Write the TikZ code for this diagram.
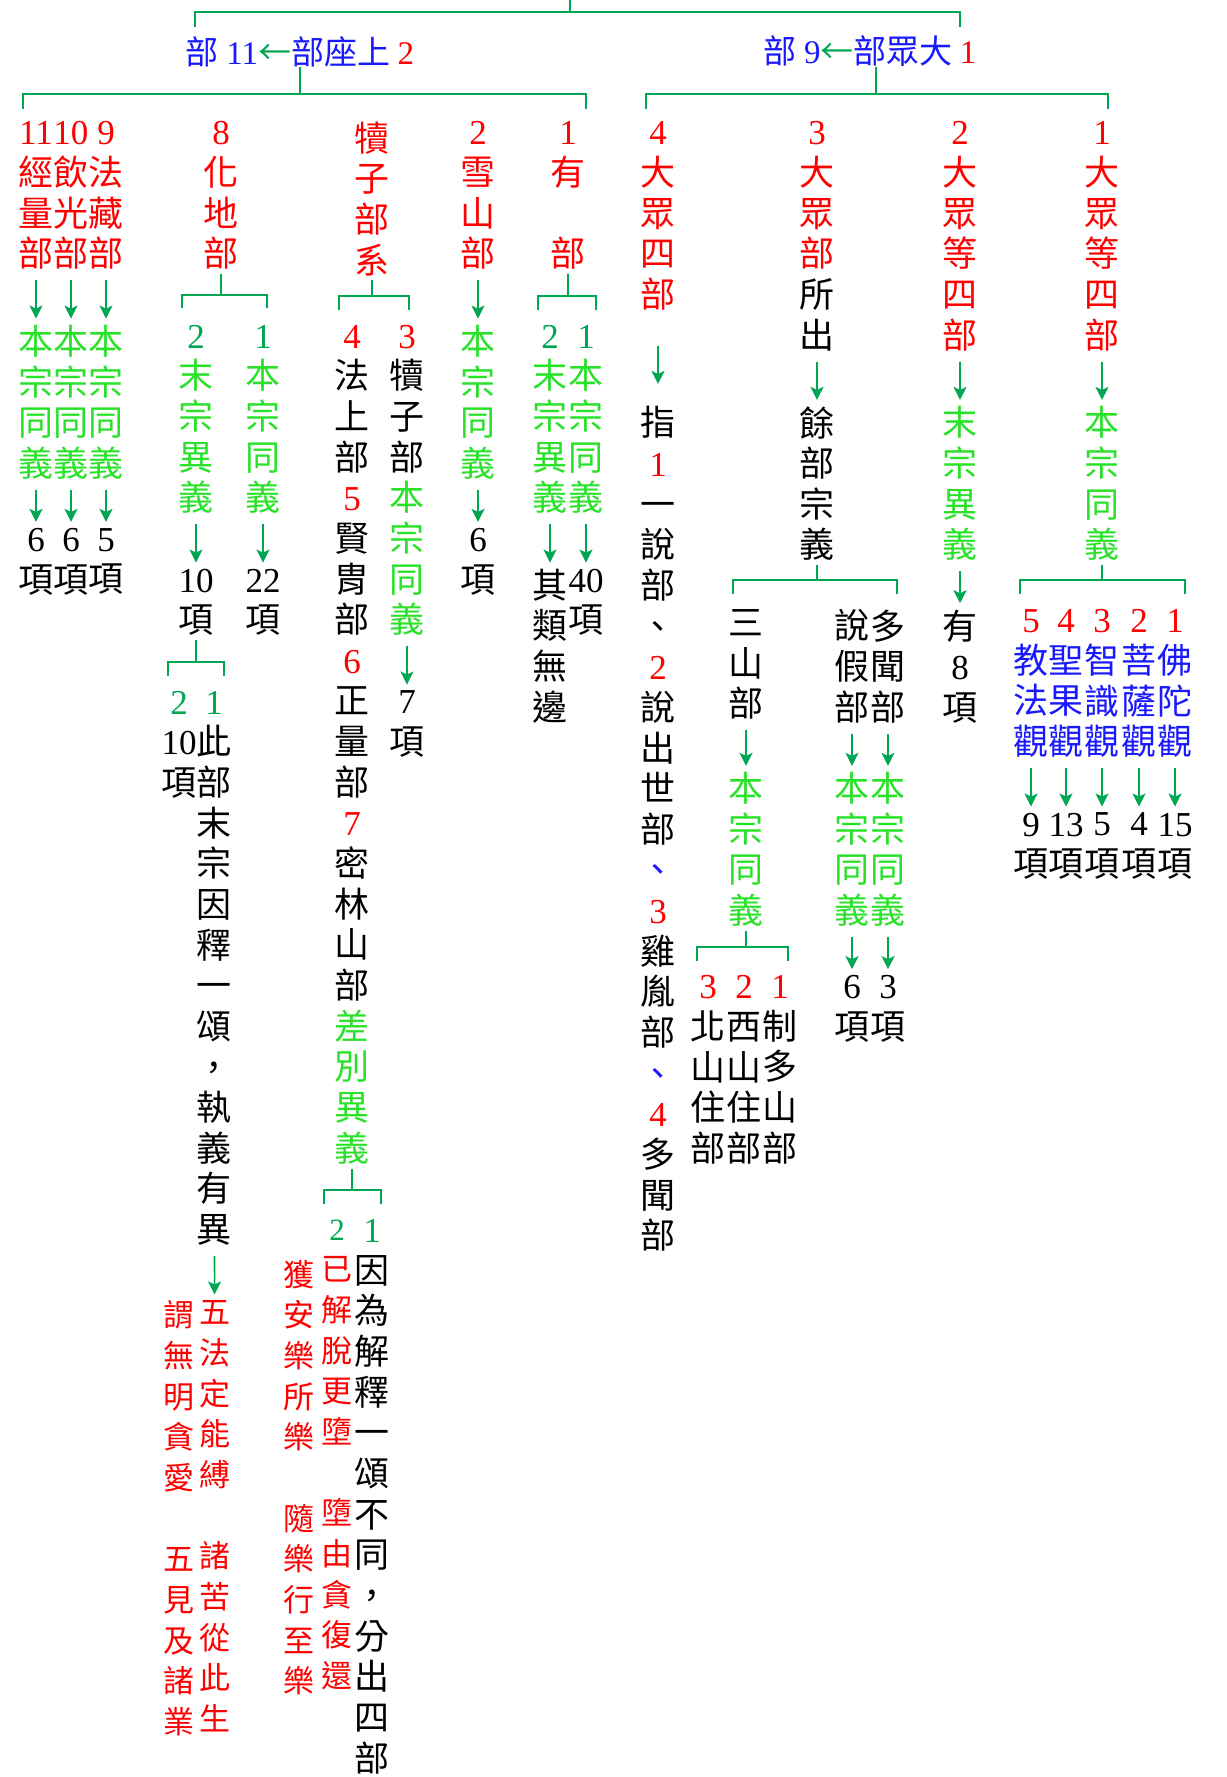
\documentclass[tikz,border=0pt]{standalone}
\usepackage{fontspec}
\usepackage{xcolor}
\usepackage{tikz}
\usetikzlibrary{arrows.meta, positioning}
\setmainfont{Liberation Serif}
\newfontfamily\cjk{Noto Sans CJK TC}
\definecolor{linkgreen}{RGB}{0, 166, 81}
\definecolor{textgreen}{RGB}{40, 225, 40}
\definecolor{textred}{RGB}{255, 0, 0}
\definecolor{textblue}{RGB}{25, 25, 255}
\newcommand{\vstrut}{\rule[-3.5pt]{0pt}{20.31pt}}
\newcommand{\nr}[1]{{\rmfamily #1}}
\newcommand{\redc}[1]{\textcolor{textred}{#1}}
\newcommand{\bluec}[1]{\textcolor{textblue}{#1}}
\newcommand{\greenc}[1]{\textcolor{textgreen}{#1}}
\newcommand{\linkc}[1]{\textcolor{linkgreen}{#1}}
\newcommand{\row}[1]{121.3+40.66*#1}
\tikzstyle{col} = [
    anchor=north,
    align=center,
    inner sep=0pt,
    font=\cjk\fontsize{17.5}{20.33}\selectfont,
    execute at begin node=\vstrut,
    execute at end node=\vstrut
]
\tikzstyle{note} = [
    col,
    font=\cjk\fontsize{15.5}{20.33}\selectfont,
    text=textred
]
\tikzstyle{title} = [
    inner sep=0pt,
    font=\cjk\fontsize{16.5}{20}\selectfont,
    text=textblue
]
\tikzstyle{link} = [
    line width=1pt,
    color=linkgreen
]
\tikzstyle{arrow} = [
    line width=0.8pt,
    -{Stealth[length=6.5pt, width=6.5pt, inset=1.5pt]},
    shorten <=3pt,
    shorten >=3pt,
    color=linkgreen
]

\begin{document}
\begin{tikzpicture}[x=0.5pt, y=-0.5pt]
        \useasboundingbox (0,0) rectangle (1226,1777);

        % Titles
        \coordinate (root) at (570,0);
        \node[title] (shangzuo) at (300,51.5) {部 \nr{11}\linkc{←}部座上 \redc{\nr{2}}};
        \node[title] (dazhong) at (870,51.5) {部 \nr{9}\linkc{←}部眾大 \redc{\nr{1}}};
        \draw[link] (root) -- (570,12.5);
        \draw[link] (195,27) |- (960,12.5) -- (960,27);
        \coordinate (shangzuo-stem) at (300,94);
        \coordinate (dazhong-stem) at (876,94);
        \draw[link] (shangzuo.south -| shangzuo-stem) -- (shangzuo-stem);
        \draw[link] (dazhong.south -| dazhong-stem) -- (dazhong-stem);
        \draw[link] (23,109) |- (586,94) -- (586,109);
        \draw[link] (646,109) |- (1108,94) -- (1108,109);

        % Sthavira: 11, 10, 9
        \node[col, text=textred] (jingliang) at (36,{\row{0}}) {\nr{11}\\經\\量\\部};
        \node[col, text=textred] (yinguang) at (71,{\row{0}}) {\nr{10}\\飲\\光\\部};
        \node[col, text=textred] (fazang) at (106,{\row{0}}) {\nr{9}\\法\\藏\\部};
        \node[col, text=textgreen] (jingliang-same) at (36,{\row{5}}) {本\\宗\\同\\義};
        \node[col, text=textgreen] (yinguang-same) at (71,{\row{5}}) {本\\宗\\同\\義};
        \node[col, text=textgreen] (fazang-same) at (106,{\row{5}}) {本\\宗\\同\\義};
        \node[col] (jingliang-n) at (36,{\row{10}}) {\nr{6}\\項};
        \node[col] (yinguang-n) at (71,{\row{10}}) {\nr{6}\\項};
        \node[col] (fazang-n) at (106,{\row{10}}) {\nr{5}\\項};
        \draw[arrow] (jingliang) -- (jingliang-same);
        \draw[arrow] (yinguang) -- (yinguang-same);
        \draw[arrow] (fazang) -- (fazang-same);
        \draw[arrow] (jingliang-same) -- (jingliang-n);
        \draw[arrow] (yinguang-same) -- (yinguang-n);
        \draw[arrow] (fazang-same) -- (fazang-n);

        % Sthavira: 8
        \node[col, text=textred] (huadi) at (221,{\row{0}}) {\nr{8}\\化\\地\\部};
        \draw[link] (huadi) -- (221,294.8);
        \draw[link] (182,308) |- (267,294.8) -- (267,308);
        \node[col, text=textgreen] (huadi-diff) at (196,{\row{5}}) {\linkc{\nr{2}}\\末\\宗\\異\\義};
        \node[col, text=textgreen] (huadi-same) at (263,{\row{5}}) {\linkc{\nr{1}}\\本\\宗\\同\\義};
        \node[col] (huadi-diff-n) at (196,{\row{11}}) {\nr{10}\\項};
        \node[col] (huadi-same-n) at (263,{\row{11}}) {\nr{22}\\項};
        \draw[arrow] (huadi-diff) -- (huadi-diff-n);
        \draw[arrow] (huadi-same) -- (huadi-same-n);
        \draw[link] (huadi-diff-n) -- (196,662);
        \draw[link] (168,676) |- (224,662) -- (224,676);
        \node[col] (huadi-ten) at (179,{\row{14}}) {\linkc{\nr{2}}\\\nr{10}\\項};
        \node[col] (huadi-why) at (214,{\row{14}}) {\linkc{\nr{1}}\\此\\部\\末\\宗\\因\\釋\\一\\頌\\，\\執\\義\\有\\異};
        \node[note] (wuming) at (179,{\row{29}}) {謂\\無\\明\\貪\\愛\\~\\五\\見\\及\\諸\\業};
        \node[note] (wufa) at (215,{\row{29}}) {五\\法\\定\\能\\縛\\~\\諸\\苦\\從\\此\\生};
        \draw[arrow] (huadi-why) -- (wufa);

        % Sthavira: Vatsiputriya
        \node[col, text=textred] (duzi) at (372,{\row{0}}) {犢\\子\\部\\系};
        \draw[link] (duzi) -- (372,296);
        \draw[link] (339,310) |- (409,296) -- (409,310);
        \node[col] (duzi-four) at (352,{\row{5}}) {\redc{\nr{4}}\\法\\上\\部\\\redc{\nr{5}}\\賢\\胄\\部\\\redc{\nr{6}}\\正\\量\\部\\\redc{\nr{7}}\\密\\林\\山\\部\\\greenc{差}\\\greenc{別}\\\greenc{異}\\\greenc{義}};
        \node[col] (duzi-self) at (407,{\row{5}}) {\redc{\nr{3}}\\犢\\子\\部\\\greenc{本}\\\greenc{宗}\\\greenc{同}\\\greenc{義}};
        \node[col] (duzi-self-n) at (407,{\row{14}}) {\nr{7}\\項};
        \draw[arrow] (duzi-self) -- (duzi-self-n);
        \draw[link] (duzi-four) -- (352,1190);
        \draw[link] (324,1204) |- (381,1190) -- (381,1204);
        \node[note] (huole) at (299,{\row{28}}) {獲\\安\\樂\\所\\樂\\~\\隨\\樂\\行\\至\\樂};
        \node[note] (yijie) at (337,{\row{27}}) {\linkc{\nr{2}}\\已\\解\\脫\\更\\墮\\~\\墮\\由\\貪\\復\\還};
        \node[col] (yinwei) at (372,{\row{27}}) {\linkc{\nr{1}}\\因\\為\\解\\釋\\一\\頌\\不\\同\\，\\分\\出\\四\\部};

        % Sthavira: 2
        \node[col, text=textred] (xueshan) at (478,{\row{0}}) {\nr{2}\\雪\\山\\部};
        \node[col, text=textgreen] (xueshan-same) at (478,{\row{5}}) {本\\宗\\同\\義};
        \node[col] (xueshan-n) at (478,{\row{10}}) {\nr{6}\\項};
        \draw[arrow] (xueshan) -- (xueshan-same);
        \draw[arrow] (xueshan-same) -- (xueshan-n);

        % Sthavira: 1
        \node[col, text=textred] (youbu) at (568,{\row{0}}) {\nr{1}\\有\\~\\部};
        \draw[link] (youbu) -- (568,296);
        \draw[link] (538,310) |- (596,296) -- (596,310);
        \node[col, text=textgreen] (youbu-diff) at (550,{\row{5}}) {\linkc{\nr{2}}\\末\\宗\\異\\義};
        \node[col, text=textgreen] (youbu-same) at (586,{\row{5}}) {\linkc{\nr{1}}\\本\\宗\\同\\義};
        \node[col] (youbu-diff-n) at (550,{\row{11}}) {其\\類\\無\\邊};
        \node[col] (youbu-same-n) at (586,{\row{11}}) {\nr{40}\\項};
        \draw[arrow] (youbu-diff) -- (youbu-diff-n);
        \draw[arrow] (youbu-same) -- (youbu-same-n);

        % Mahasanghika: 4
        \node[col, text=textred] (dazhong4) at (658,{\row{0}}) {\nr{4}\\大\\眾\\四\\部};
        \node[col] (dazhong4-n) at (658,{\row{7}}) {指\\\redc{\nr{1}}\\一\\說\\部\\、\\\redc{\nr{2}}\\說\\出\\世\\部\\\bluec{、}\\\redc{\nr{3}}\\雞\\胤\\部\\\bluec{、}\\\redc{\nr{4}}\\多\\聞\\部};
        \draw[arrow, shorten <=15.7pt, shorten >=11pt] (dazhong4) -- (dazhong4-n);

        % Mahasanghika: 3
        \node[col, text=textred] (dazhong3) at (817,{\row{0}}) {\nr{3}\\大\\眾\\部\\\textcolor{black}{所}\\\textcolor{black}{出}};
        \node[col] (yubu) at (817,{\row{7}}) {餘\\部\\宗\\義};
        \draw[arrow] (dazhong3) -- (yubu);
        \draw[link] (yubu) -- (817,580);
        \draw[link] (733,594) |- (897,580) -- (897,594);
        \node[col] (sanshan) at (746,{\row{12}}) {三\\山\\部};
        \node[col, text=textgreen] (sanshan-same) at (746,{\row{16}}) {本\\宗\\同\\義};
        \draw[arrow] (sanshan) -- (sanshan-same);
        \draw[link] (sanshan-same) -- (746,947);
        \draw[link] (697,961) |- (788,947) -- (788,961);
        \node[col] (beishan) at (708,{\row{21}}) {\redc{\nr{3}}\\北\\山\\住\\部};
        \node[col] (xishan) at (744,{\row{21}}) {\redc{\nr{2}}\\西\\山\\住\\部};
        \node[col] (zhiduo) at (780,{\row{21}}) {\redc{\nr{1}}\\制\\多\\山\\部};
        \node[col] (shuojia) at (852,{\row{12}}) {說\\假\\部};
        \node[col, text=textgreen] (shuojia-same) at (852,{\row{16}}) {本\\宗\\同\\義};
        \node[col] (shuojia-n) at (852,{\row{21}}) {\nr{6}\\項};
        \node[col] (duowen) at (888,{\row{12}}) {多\\聞\\部};
        \node[col, text=textgreen] (duowen-same) at (888,{\row{16}}) {本\\宗\\同\\義};
        \node[col] (duowen-n) at (888,{\row{21}}) {\nr{3}\\項};
        \draw[arrow] (shuojia) -- (shuojia-same);
        \draw[arrow] (shuojia-same) -- (shuojia-n);
        \draw[arrow] (duowen) -- (duowen-same);
        \draw[arrow] (duowen-same) -- (duowen-n);

        % Mahasanghika: 2
        \node[col, text=textred] (dazhong2) at (960,{\row{0}}) {\nr{2}\\大\\眾\\等\\四\\部};
        \node[col, text=textgreen] (dazhong2-diff) at (960,{\row{7}}) {末\\宗\\異\\義};
        \node[col] (dazhong2-n) at (960,{\row{12}}) {有\\\nr{8}\\項};
        \draw[arrow] (dazhong2) -- (dazhong2-diff);
        \draw[arrow] (dazhong2-diff) -- (dazhong2-n);

        % Mahasanghika: 1
        \node[col, text=textred] (dazhong1) at (1102,{\row{0}}) {\nr{1}\\大\\眾\\等\\四\\部};
        \node[col, text=textgreen] (dazhong1-same) at (1102,{\row{7}}) {本\\宗\\同\\義};
        \draw[arrow] (dazhong1) -- (dazhong1-same);
        \draw[link] (dazhong1-same) -- (1102,580);
        \draw[link] (1020,594) |- (1185,580) -- (1185,594);
        \node[col, text=textblue] (jiaofa) at (1031,{\row{12}}) {\redc{\nr{5}}\\教\\法\\觀};
        \node[col, text=textblue] (shengguo) at (1066,{\row{12}}) {\redc{\nr{4}}\\聖\\果\\觀};
        \node[col, text=textblue] (zhishi) at (1102,{\row{12}}) {\redc{\nr{3}}\\智\\識\\觀};
        \node[col, text=textblue] (pusa) at (1139,{\row{12}}) {\redc{\nr{2}}\\菩\\薩\\觀};
        \node[col, text=textblue] (fotuo) at (1175,{\row{12}}) {\redc{\nr{1}}\\佛\\陀\\觀};
        \node[col] (jiaofa-n) at (1031,{\row{17}}) {\nr{9}\\項};
        \node[col] (shengguo-n) at (1066,{\row{17}}) {\nr{13}\\項};
        \node[col] (zhishi-n) at (1102,{\row{17}}) {\nr{5}\\項};
        \node[col] (pusa-n) at (1139,{\row{17}}) {\nr{4}\\項};
        \node[col] (fotuo-n) at (1175,{\row{17}}) {\nr{15}\\項};
        \draw[arrow] (jiaofa) -- (jiaofa-n);
        \draw[arrow] (shengguo) -- (shengguo-n);
        \draw[arrow] (zhishi) -- (zhishi-n);
        \draw[arrow] (pusa) -- (pusa-n);
        \draw[arrow] (fotuo) -- (fotuo-n);
    \end{tikzpicture}
\end{document}
